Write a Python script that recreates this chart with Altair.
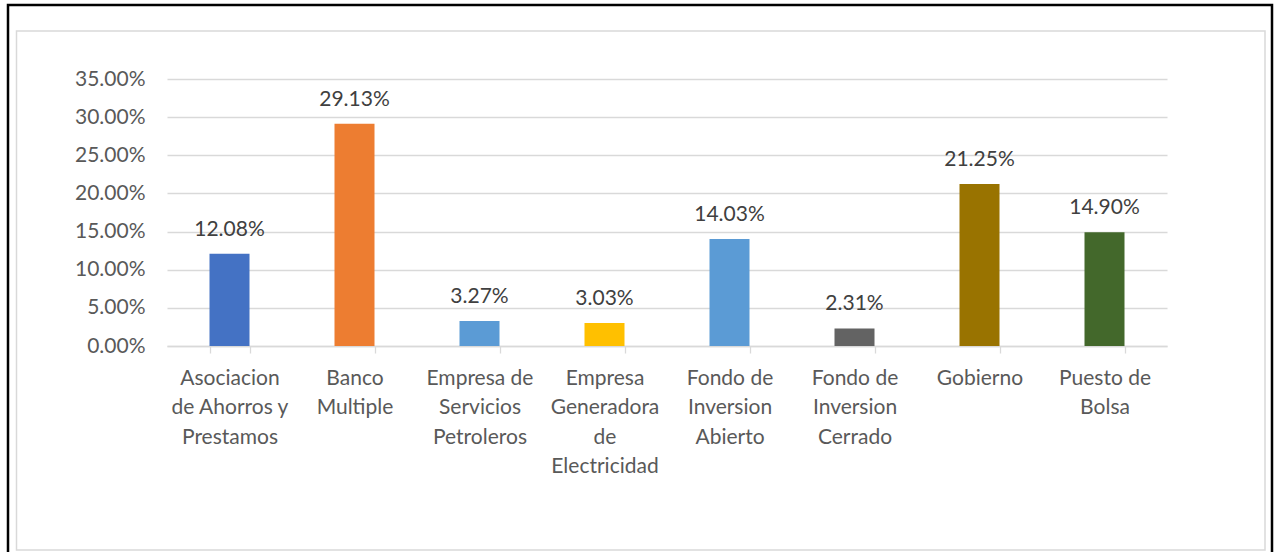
import altair as alt
import pandas as pd

categories = [
    "Asociacion\nde Ahorros y\nPrestamos",
    "Banco\nMultiple",
    "Empresa de\nServicios\nPetroleros",
    "Empresa\nGeneradora\nde\nElectricidad",
    "Fondo de\nInversion\nAbierto",
    "Fondo de\nInversion\nCerrado",
    "Gobierno",
    "Puesto de\nBolsa",
]
values = [0.1208, 0.2913, 0.0327, 0.0303, 0.1403, 0.0231, 0.2125, 0.1490]
colors = ["#4472C4", "#ED7D31", "#5B9BD5", "#FFC000", "#5B9BD5", "#636363", "#997300", "#43682B"]
y_ticks = [0.0, 0.05, 0.10, 0.15, 0.20, 0.25, 0.30, 0.35]

df = pd.DataFrame({"cat": categories, "val": values, "color": colors})

FONT = "Lato"
FS = 21

x = alt.X(
    "cat:N",
    sort=categories,
    title=None,
    scale=alt.Scale(paddingInner=0.68, paddingOuter=0.34),
    axis=alt.Axis(
        labelExpr="split(datum.label, '\\n')",
        labelAngle=0,
        labelFont=FONT,
        labelFontSize=FS,
        labelColor="#595959",
        labelLineHeight=29.5,
        labelPadding=14,
        labelLimit=200,
        labelOverlap=False,
        tickBand="extent",
        tickColor="#D9D9D9",
        tickSize=7,
        tickWidth=1.3,
        domainColor="#D9D9D9",
        domainWidth=1.5,
        grid=False,
    ),
)

y = alt.Y(
    "val:Q",
    title=None,
    scale=alt.Scale(domain=[0, 0.35], nice=False),
    axis=alt.Axis(
        values=y_ticks,
        format=".2%",
        labelFont=FONT,
        labelFontSize=FS,
        labelColor="#595959",
        labelPadding=22,
        labelOverlap=False,
        labelBound=False,
        domain=False,
        ticks=False,
        grid=True,
        gridColor="#D9D9D9",
        gridWidth=1.3,
    ),
)

bars = alt.Chart(df).mark_bar().encode(
    x=x,
    y=y,
    color=alt.Color("color:N", scale=None, legend=None),
)

labels = alt.Chart(df).mark_text(
    baseline="alphabetic", dy=-18, font=FONT, fontSize=FS, color="#404040"
).encode(
    x=x,
    y=y,
    text=alt.Text("val:Q", format=".2%"),
)

frame_data = alt.Data(values=[{"k": 1}])
outer = alt.Chart(frame_data).mark_rect(
    fill=None, stroke="#000000", strokeWidth=2.5
).encode(
    x=alt.value(-159), x2=alt.value(1105), y=alt.value(-74), y2=alt.value(490)
)
inner = alt.Chart(frame_data).mark_rect(
    fill=None, stroke="#D9D9D9", strokeWidth=1.5
).encode(
    x=alt.value(-150.5), x2=alt.value(1098), y=alt.value(-48), y2=alt.value(471)
)

chart = alt.layer(outer, inner, bars, labels).properties(
    width=1000,
    height=267,
    autosize=alt.AutoSizeParams(type="none"),
    padding={"left": 167, "top": 79, "right": 114, "bottom": 206},
    background="white",
).configure_view(stroke=None)

chart.save("out.html", embed_options={"renderer": "svg", "actions": False})
